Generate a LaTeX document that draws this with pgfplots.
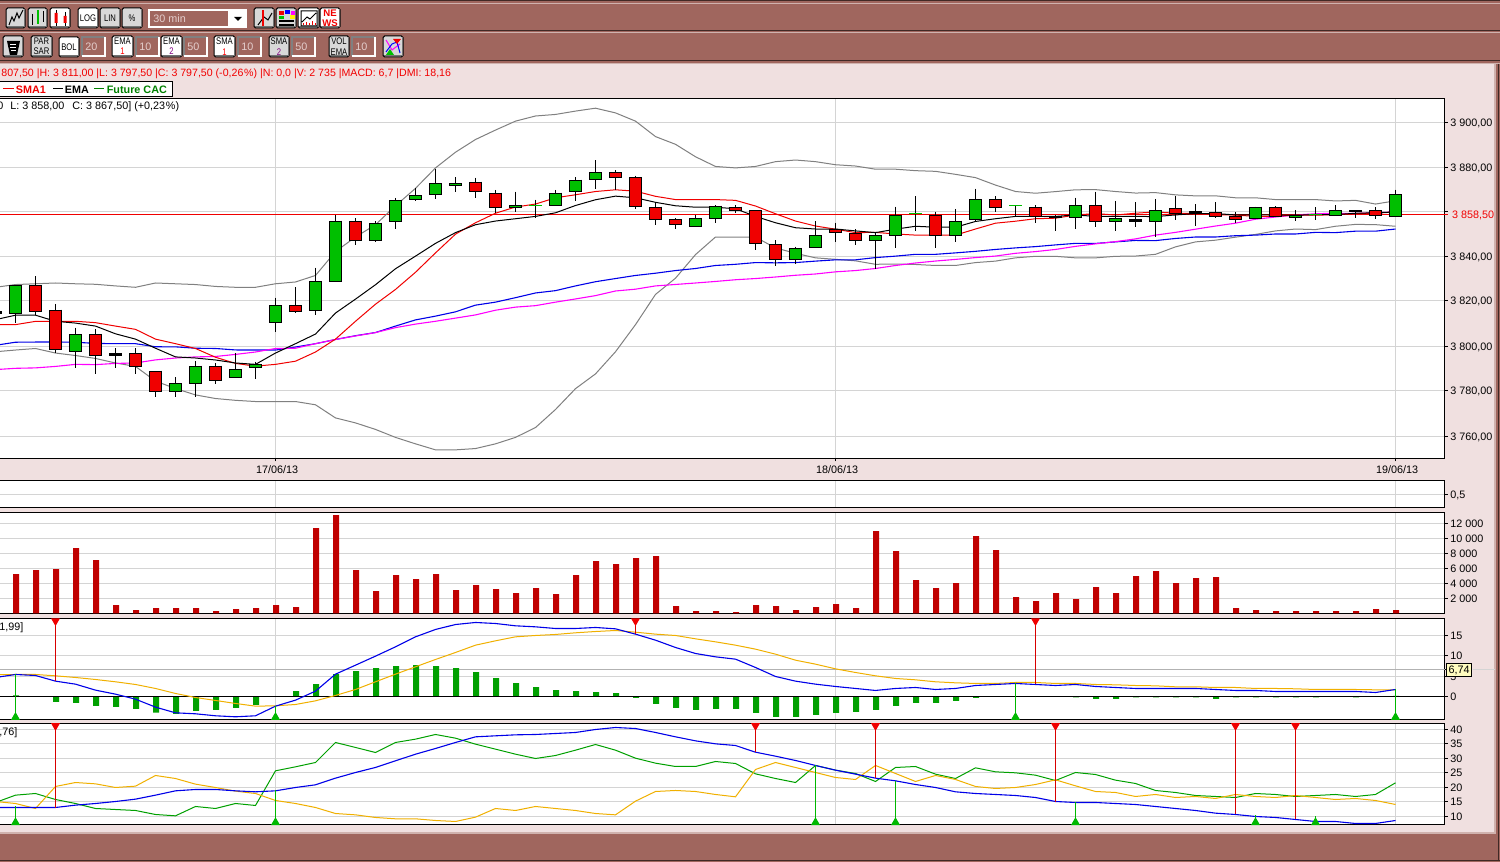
\documentclass[border=0pt]{standalone}
\usepackage{fontspec}
\setmainfont{Liberation Sans}
\newfontfamily\btnfont[FakeStretch=0.8]{Liberation Sans}
\usepackage{pgfplots}
\usepackage{pgfplotstable}
\pgfplotsset{compat=1.18}
\definecolor{brownbg}{HTML}{A0665E}
\definecolor{pinkbg}{HTML}{F0E0E0}
\definecolor{gridc}{HTML}{D4D4D4}
\definecolor{cgreen}{HTML}{00BF00}
\definecolor{cred}{HTML}{F00000}
\definecolor{vred}{HTML}{C00000}
\definecolor{hgreen}{HTML}{00A000}
\definecolor{lblue}{HTML}{0000E8}
\definecolor{lmag}{HTML}{FF00FF}
\definecolor{lgray}{HTML}{808080}
\definecolor{lorange}{HTML}{F0B000}
\definecolor{lgreen}{HTML}{00A000}
\definecolor{sred}{HTML}{D80000}
\definecolor{sgreen}{HTML}{00B800}
\definecolor{btn}{HTML}{D8D8D8}
\newcommand\txf{\fontsize{5.4}{6.2}\selectfont}
\newcommand\btf{\btnfont\fontsize{4.8}{5.2}\selectfont}

\pgfplotstableread{
k sma ema ema50 sma50 bbu bbl
-1 3809.2 3811.4 3800.45 3789.6 3825.8 3797.65
0 3809.5 3813.6 3801.35 3790.15 3827 3798.4
1 3810.7 3813.8 3801.8 3790.6 3827.6 3798.7
2 3810.7 3811 3801.65 3791.05 3828 3796.9
3 3811.1 3810.5 3801.35 3791.5 3827.6 3795.75
4 3810.2 3808.75 3801.2 3791.9 3827.3 3794.3
5 3808.75 3805.5 3801.05 3792.1 3826.55 3792.5
6 3807.4 3803.1 3800.6 3792.5 3825.8 3790.75
7 3803.3 3799.1 3799.85 3794 3828 3784.4
8 3800.6 3795.4 3799.55 3794.7 3827.6 3781
9 3798.7 3794.7 3799.1 3795.2 3827 3778.55
10 3795 3793.7 3798.7 3795.45 3826.25 3777.1
11 3792.1 3792.2 3798.25 3796.2 3825.8 3775.9
12 3791 3791.8 3797.8 3797.35 3825.8 3775.6
13 3791.8 3796.9 3798.4 3798.7 3827.6 3775.2
14 3793.2 3800.6 3799.25 3799.1 3828.75 3775.2
15 3797.35 3805 3800.6 3800.6 3831.75 3774.15
16 3803.1 3814.7 3802.8 3802.8 3842.15 3768.6
17 3811 3820.6 3804.6 3804.3 3848.15 3766.1
18 3818.4 3826.85 3806.2 3805.8 3854.15 3763.2
19 3825.1 3834 3808.75 3808 3862.4 3759.55
20 3832.8 3839.9 3811.25 3809.65 3870.65 3756.65
21 3841.7 3845.9 3813.2 3811.1 3879.65 3753.9
22 3850 3850.85 3815.4 3812.6 3887.15 3753.9
23 3854.6 3854.15 3817.9 3814 3892.75 3754.45
24 3859.1 3855.35 3819.55 3815.7 3896.95 3756.65
25 3862.1 3856.7 3821.5 3817.2 3900.7 3759.55
26 3863.45 3857.9 3823.3 3818.2 3903.05 3763.95
27 3866 3859.4 3824.6 3819.55 3903.8 3772
28 3867.35 3862.7 3826.55 3821 3905.15 3780.75
29 3868.85 3865.4 3828.35 3822.5 3906.65 3787.4
30 3869.75 3867.2 3830 3824 3904.85 3797.65
31 3869.15 3866.45 3831.5 3825.05 3900.7 3809.5
32 3866.75 3864.2 3832.4 3826.55 3893.7 3822.85
33 3865.7 3862.4 3833.3 3827.1 3890.2 3830.25
34 3865.25 3861.65 3834.3 3828 3884.7 3840.65
35 3865.25 3861.65 3835.7 3828.9 3880.1 3848.15
36 3864.8 3861.35 3836.6 3829.65 3879.65 3848.75
37 3862.55 3857.9 3836.9 3830.1 3880.1 3848.3
38 3858.95 3854.6 3837.05 3830.4 3882.5 3843.65
39 3855.8 3852.65 3837.35 3831.15 3883.25 3841.4
40 3853.55 3852.2 3837.8 3832.05 3882.8 3839.6
41 3851.9 3852.2 3838.25 3832.95 3881.45 3838.7
42 3850.85 3851 3838.25 3833.55 3880.4 3837.5
43 3850.4 3850.85 3839 3834.3 3879.2 3836.6
44 3849.95 3851.9 3839.9 3835.95 3879.2 3836.15
45 3849.5 3853.4 3840.5 3836.85 3878.6 3836.3
46 3849.35 3852.8 3840.95 3837.75 3878 3835.7
47 3849.5 3852.8 3841.7 3838.65 3876.8 3835.7
48 3852.2 3855.65 3842.3 3839.55 3875.15 3836.9
49 3854.9 3856.7 3843.05 3840.2 3872.15 3837.8
50 3855.5 3857.6 3843.65 3841.4 3869.3 3839.15
51 3856.7 3857.6 3844.25 3842 3868.25 3840.05
52 3857.3 3857.6 3845 3843.05 3869 3840.05
53 3858.35 3858.2 3845.3 3844.55 3869.75 3839.6
54 3858.8 3857.9 3845.75 3845.45 3869.6 3839.6
55 3858.35 3857.6 3846.35 3846.65 3868.85 3840.05
56 3859.1 3857.6 3846.8 3848 3868.4 3840.2
57 3859.7 3858.05 3847.25 3849.5 3868.7 3840.95
58 3859.1 3858.2 3847.7 3850.7 3867.5 3843.95
59 3858.8 3858.8 3848.15 3852.35 3867.05 3846.35
60 3858.65 3858.8 3848.6 3853.55 3866.9 3847.1
61 3858.35 3858.2 3849.05 3854.9 3866.45 3848.3
62 3857.9 3858.2 3849.5 3856.4 3866 3849.8
63 3857.9 3858.35 3849.95 3857.45 3865.7 3851.6
64 3858.2 3858.5 3849.95 3858.35 3865.7 3851.75
65 3858.5 3858.65 3850.4 3858.95 3865.7 3852.05
66 3858.65 3858.65 3850.85 3859.1 3864.95 3853.4
67 3858.8 3859.1 3851.3 3859.25 3864.8 3854
68 3859.1 3859.4 3851.3 3859.4 3863.45 3854.45
69 3859.7 3859.85 3852.2 3859.7 3864.5 3853.4
}\maintab

\pgfplotstableread{
k v
0 5244
1 5778
2 5911
3 8711
4 7111
5 1111
6 444
7 711
8 711
9 711
10 311
11 578
12 711
13 1111
14 844
15 11378
16 13111
17 5778
18 2978
19 5111
20 4578
21 5244
22 3111
23 3778
24 3244
25 2711
26 3378
27 2578
28 5111
29 6978
30 6578
31 7378
32 7644
33 978
34 311
35 311
36 178
37 1111
38 978
39 444
40 844
41 1244
42 711
43 10978
44 8311
45 4444
46 3378
47 4044
48 10311
49 8444
50 2178
51 1644
52 2711
53 1911
54 3511
55 2711
56 4978
57 5644
58 4044
59 4711
60 4844
61 711
62 444
63 311
64 311
65 311
66 311
67 311
68 578
69 444
}\voltab

\pgfplotstableread{
k macd sig hist
-1 4.67 5.33 0
0 5.41 5.41 0.25
1 5.16 5.41 0
2 3.77 5.08 -1.3
3 3.03 4.67 -1.56
4 1.56 4.18 -2.3
5 0.57 3.61 -2.54
6 -0.66 2.95 -3.03
7 -2.62 1.97 -4.0
8 -4.02 0.74 -4.26
9 -4.26 -0.25 -3.52
10 -4.75 -0.98 -3.28
11 -5.0 -1.72 -2.79
12 -4.75 -2.38 -2.05
13 -2.38 -2.3 0
14 -0.9 -1.97 1.31
15 1.31 -1.07 3.03
16 5.49 0.25 5.49
17 7.7 1.72 6.23
18 9.92 3.61 6.97
19 12.21 5.49 7.46
20 14.67 7.3 7.7
21 16.48 9.1 7.46
22 17.7 10.82 6.97
23 18.2 12.62 5.98
24 17.95 13.69 4.51
25 17.38 14.67 3.28
26 17.13 15 2.3
27 16.72 15.25 1.56
28 16.72 15.66 1.31
29 16.97 15.98 1.07
30 16.64 16.23 0.82
31 15.33 15.82 -0.33
32 13.85 15.33 -1.8
33 12.05 15 -2.79
34 10.57 14.18 -3.28
35 9.75 13.44 -3.03
36 9.18 12.62 -3.03
37 7.13 11.64 -4.02
38 4.92 10.41 -5.0
39 3.77 8.93 -5.0
40 3.03 7.95 -4.51
41 2.46 6.8 -4.02
42 1.97 5.9 -3.77
43 1.48 5.08 -3.28
44 1.97 4.43 -2.3
45 2.21 4.1 -1.56
46 1.72 3.61 -1.56
47 1.97 3.36 -1.07
48 2.7 3.2 -0.33
49 2.95 3.2 0
50 3.2 3.44 0
51 2.95 3.44 0
52 2.7 3.2 0
53 2.95 3.2 -0.25
54 2.46 2.95 -0.57
55 2.21 2.87 -0.57
56 1.97 2.7 -0.25
57 1.97 2.62 -0.25
58 1.97 2.38 -0.25
59 1.97 2.38 -0.25
60 1.72 2.21 -0.57
61 1.48 2.21 -0.25
62 1.48 1.97 -0.25
63 1.23 1.97 -0.25
64 1.23 1.89 -0.25
65 1.23 1.72 -0.25
66 1.23 1.72 0
67 1.23 1.72 -0.25
68 0.98 1.64 0
69 1.72 1.64 0.16
}\macdtab

\pgfplotstableread{
k adx pdi mdi
-1 13.1 14.83 15.17
0 13.1 17.36 14.48
1 13.1 17.93 12.76
2 13.1 15.86 20.35
3 13.91 14.48 21.72
4 14.48 12.76 21.26
5 15.17 12.41 20
6 15.98 12.07 20.46
7 17.36 10.69 24.14
8 18.85 10.23 23.1
9 19.31 13.45 21.15
10 19.31 12.76 20
11 18.85 14.48 18.74
12 18.51 13.8 17.93
13 18.85 25.75 15.52
14 20 27.13 14.48
15 20.92 28.62 13.1
16 23.22 35.52 11.03
17 25.17 33.8 10.57
18 26.9 32.07 9.66
19 29.2 35.52 9.2
20 31.49 36.67 9.2
21 33.45 38.28 8.62
22 35.52 37.01 8.28
23 37.47 34.94 9.77
24 37.82 33.22 12.76
25 38.16 31.49 12.07
26 38.28 30 13.45
27 38.62 31.03 12.76
28 38.97 32.87 12.07
29 40 34.83 11.03
30 40.69 32.87 10.57
31 40.34 30.11 15.29
32 38.97 28.39 18.62
33 37.47 27.24 18.97
34 36.09 27.24 18.62
35 35.06 28.97 17.59
36 34.48 28.28 16.78
37 32.18 24.71 26.21
38 30.8 23.1 28.62
39 29.31 21.72 26.9
40 27.59 27.59 25.17
41 25.98 25.98 23.45
42 24.6 24.83 22.76
43 23.22 22.07 27.59
44 22.3 26.9 24.83
45 21.03 27.24 22.07
46 20 24.6 24.14
47 18.51 23.1 22.76
48 17.93 26.78 20.35
49 17.59 25.4 19.66
50 17.24 25.06 20
51 16.55 24.25 21.03
52 15.17 22.41 22.64
53 14.83 25.17 20.57
54 14.83 24.48 18.62
55 14.48 22.53 18.28
56 14.14 21.38 16.9
57 13.45 18.97 17.59
58 12.76 18.28 16.55
59 12.07 17.24 16.9
60 11.15 16.9 16.21
61 10.69 16.55 17.59
62 10 17.93 16.9
63 9.66 17.59 16.55
64 8.97 16.9 17.24
65 8.28 17.24 16.55
66 8.28 17.59 15.86
67 7.59 16.9 16.21
68 7.59 17.59 15.52
69 8.62 21.61 14.14
}\dmitab

% colour, position, high, body top, body bottom, low
\newcommand\cand[6]{\addplot[black,line width=.5pt] coordinates {(#2,#3)(#2,#6)};
  \addplot[black,line width=6.5pt,shorten <=-.25pt,shorten >=-.25pt] coordinates {(#2,#4)(#2,#5)};
  \addplot[#1,line width=5.5pt,shorten <=.25pt,shorten >=.25pt] coordinates {(#2,#4)(#2,#5)};}
% position, high, body, low : thin green doji
\newcommand\dojig[4]{\addplot[black,line width=.5pt] coordinates {(#1,#2)(#1,#4)};
  \addplot[cgreen,only marks,mark=-,mark size=3.2pt,mark options={line width=.5pt}] coordinates {(#1,#3)};}
% position, mark value, end value
\newcommand\sigdn[3]{\addplot[sred,line width=.5pt,mark=triangle*,mark size=2.1pt,
  mark indices={1},mark options={rotate=180,fill=cred,draw=cred}] coordinates {(#1,#2)(#1,#3)};}
\newcommand\sigup[3]{\addplot[sgreen,line width=.5pt,mark=triangle*,mark size=2.1pt,
  mark indices={1},mark options={fill=sgreen,draw=sgreen}] coordinates {(#1,#2)(#1,#3)};}

\pgfplotsset{panel/.style={scale only axis,width=727.25pt,xmin=-1.275,xmax=71.45,
  anchor=north west,axis background/.style={fill=white},
  axis line style={black,line width=.5pt},
  xtick={13,41,69},xmajorgrids,ymajorgrids,
  grid style={gridc,line width=.5pt},
  tick align=outside,major tick length=1.5pt,
  tick style={black,line width=.5pt},
  xtick pos=bottom,ytick pos=right,yticklabel pos=right,
  scaled y ticks=false,
  tick label style={font=\txf,black},
  yticklabel style={anchor=base west,inner sep=0pt,xshift=1.2pt,yshift=-1.95pt},
  xticklabel style={inner sep=0pt,yshift=-1.7pt,xshift=.8pt},
  every axis plot/.append style={forget plot},
  },
  lower/.style={panel,xticklabels={},xtick style={draw=none}}}

\begin{document}
\begin{tikzpicture}
\path[use as bounding box] (0,0) rectangle (750pt,431pt);
\begin{scope}[x=.5pt,y=-.5pt,yshift=431pt]
\newcommand\btnb[6]{\fill[#5,rounded corners=.8pt] (#1,#2) rectangle (#3,#4);
  \draw[black,line width=.5pt,rounded corners=.8pt] (#1,#2) rectangle (#3,#4);
  \draw[black!55,line width=.5pt] (#1+1,#4-1) -- (#3-1,#4-1) -- (#3-1,#2+1);
  \node[font=\btf,align=center,inner sep=0pt,text=black] at ({(#1+#3)/2},{(#2+#4)/2}) {#6};}
\newcommand\ibox[5]{\draw[gray,line width=1pt] (#1,#4) -- (#1,#2) -- (#3,#2);
  \draw[white,line width=1pt] (#3,#2) -- (#3,#4) -- (#1,#4);
  \node[font=\txf,anchor=west,inner sep=0pt,text=pinkbg!85!brownbg] at (#1+3,{(#2+#4)/2}) {#5};}
% background
\fill[brownbg] (0,0) rectangle (1500,862);
\fill[pinkbg] (0,64) rectangle (1495,832);
\draw[black!60!brownbg,line width=.5pt] (0,.5) -- (1500,.5);
\draw[brownbg!50!white,line width=.5pt] (0,3.5) -- (1500,3.5);
\draw[black!60!brownbg,line width=.5pt] (0,30.5) -- (1500,30.5);
\draw[brownbg!50!white,line width=.5pt] (0,32.5) -- (1500,32.5);
\draw[black!60!brownbg,line width=.5pt] (0,60.5) -- (1500,60.5);
\draw[brownbg!50!white,line width=.5pt] (0,63.5) -- (1500,63.5);
\draw[brownbg!50!white,line width=1pt] (0,833) -- (1495,833) -- (1495,64);
\draw[black!60!brownbg,line width=.5pt] (0,860.5) -- (1500,860.5);
\draw[black!60!brownbg,line width=.5pt] (1498.5,64) -- (1498.5,860);
\draw[gridc,line width=.5pt] (1473,669.5) -- (1495,669.5);
% toolbar 1
\btnb{6}{8}{25}{28}{btn}{}
\draw[black,line width=.5pt] (9,25)--(12,17)--(14,21)--(17,13)--(19,18)--(23,10);
\btnb{28}{8}{47}{28}{btn}{}
\draw[black,line width=.5pt] (32,14)--(32,25) (43,11)--(43,22);
\draw[cgreen,line width=1pt] (38,10)--(38,24);
\btnb{50}{8}{70}{28}{white}{}
\draw[black,line width=.5pt] (56,10)--(56,26) (65,12)--(65,26);
\fill[cred] (54.5,13) rectangle (57.5,23) (63.5,16) rectangle (66.5,23);
\btnb{78}{8}{98}{28}{white}{LOG}
\btnb{100}{8}{120}{28}{btn}{LIN}
\btnb{122}{8}{142}{28}{btn}{\%}
\draw[white,line width=1pt] (149,10) rectangle (246,27);
\fill[white] (228,10) rectangle (246,27);
\fill[black] (234,17) -- (242,17) -- (238,21) -- cycle;
\node[font=\txf,anchor=west,inner sep=0pt,text=pinkbg!85!brownbg] at (153,18.5) {30 min};
\btnb{254}{8}{274}{28}{btn}{}
\draw[black,line width=.5pt] (258,25)--(264,17)--(268,20)--(272,13);
\draw[cred,line width=.7pt] (263,10)--(263,26);
\btnb{276}{8}{296}{28}{btn}{}
\fill[cred] (279,11) rectangle (284,15);
\fill[blue] (285,10) rectangle (290,14);
\fill[lmag] (291,11) rectangle (295,15);
\fill[cgreen] (279,16) rectangle (284,19);
\fill[yellow] (290,15) rectangle (295,19);
\draw[black,line width=.7pt] (279,21)--(294,21) (279,25)--(294,25);
\btnb{298}{8}{319}{28}{white}{}
\draw[black,line width=.5pt] (301,11) rectangle (317,26) (302,22)--(307,17)--(310,19)--(316,13);
\draw[cred,line width=.5pt] (303,25)--(303,23) (306,25)--(306,22) (309,25)--(309,23) (312,25)--(312,21) (315,25)--(315,23);
\btnb{320}{8}{340}{28}{white}{}
\node[font=\fontsize{4.8}{5}\selectfont\bfseries,text=cred,align=center,inner sep=0] at (330,18) {NE\\WS};
% toolbar 2
\btnb{3}{36}{23}{57}{btn}{}
\fill[black] (7,41)--(20,41)--(17,55)--(10,55)--cycle;
\draw[white,line width=.3pt,dashed] (10,44)--(17,44) (10,47)--(17,47) (11,50)--(16,50);
\btnb{31}{36}{52}{57}{btn}{PAR\\SAR}
\btnb{59}{37}{79}{57}{white}{BOL}
\ibox{82}{37}{105}{56}{20}
\btnb{112}{36}{133}{57}{white}{EMA\\\textcolor{red}{1}}
\ibox{136}{37}{159}{56}{10}
\btnb{161}{36}{182}{57}{white}{EMA\\\textcolor{violet}{2}}
\ibox{184}{37}{207}{56}{50}
\btnb{214}{36}{235}{57}{white}{SMA\\\textcolor{red}{1}}
\ibox{238}{37}{261}{56}{10}
\btnb{269}{36}{289}{57}{btn}{SMA\\\textcolor{violet}{2}}
\ibox{292}{37}{315}{56}{50}
\btnb{329}{36}{349}{57}{btn}{VOL\\EMA}
\ibox{352}{37}{375}{56}{10}
\btnb{383}{36}{403}{57}{btn}{}
\draw[lmag,line width=.5pt] (386,40)--(392,50)--(400,44);
\draw[blue,line width=.5pt] (386,52)--(392,44)--(397,42)--(400,53);
\fill[cred] (393,39)--(401,39)--(397,44)--cycle;
\fill[cgreen] (386,55)--(394,55)--(390,49)--cycle;
% info line and legend
\node[font=\fontsize{5.3}{6}\selectfont,anchor=west,inner sep=0pt,text=cred] at (1,73.5) {807,50 |H: 3 811,00 |L: 3 797,50 |C: 3 797,50 (-0,26\hspace{.4pt}\%) |N: 0,0 |V: 2 735 |MACD: 6,7 |DMI: 18,16};
\fill[white] (-3,82) rectangle (172.5,96.5);
\draw[black,line width=.5pt] (-3,82) rectangle (172.5,96.5);
\draw[cred,line width=.5pt] (3,89)--(14,89);
\node[font=\txf\bfseries,anchor=west,inner sep=0pt,text=cred] at (15.5,89.3) {SMA1};
\draw[black,line width=.5pt] (53,89)--(63,89);
\node[font=\txf\bfseries,anchor=west,inner sep=0pt,text=black] at (64.5,89.3) {EMA};
\draw[green!50!black,line width=.5pt] (94,89)--(104,89);
\node[font=\txf\bfseries,anchor=west,inner sep=0pt,text=green!50!black] at (106.5,89.3) {Future CAC};
\end{scope}

% main panel (logarithmic price scale)
\begin{axis}[panel,at={(-5pt,381.75pt)},height=180pt,
  y coord trafo/.code={\pgfmathparse{ln(#1)*1000}},
  ymin=3750.35,ymax=3910.9,
  ytick={3760,3780,3800,3820,3840,3860,3880,3900},
  yticklabels={{3 760,00},{3 780,00},{3 800,00},{3 820,00},{3 840,00},{},{3 880,00},{3 900,00}},
  xticklabels={17/06/13,18/06/13,19/06/13},
  extra y ticks={3858.5},extra y tick labels={3 858{,}50},
  extra y tick style={grid style={cred,line width=.5pt},tick style={cred},
    yticklabel style={text=cred,xshift=.85pt}}]
\addplot[lgray,line width=.5pt] table[x=k,y=bbu]{\maintab};
\addplot[lgray,line width=.5pt] table[x=k,y=bbl]{\maintab};
\addplot[lblue,line width=.55pt] table[x=k,y=ema50]{\maintab};
\addplot[lmag,line width=.55pt] table[x=k,y=sma50]{\maintab};
\addplot[cred,line width=.5pt] table[x=k,y=sma]{\maintab};
\addplot[black,line width=.5pt] table[x=k,y=ema]{\maintab};
\cand{black}{-1}{3815.3}{3815.3}{3814.7}{3814.7}
\cand{cgreen}{0}{3826.8}{3826.65}{3814.1}{3809.9}
\cand{cred}{1}{3830.9}{3826.65}{3815.4}{3814}
\cand{cred}{2}{3818.8}{3816}{3798.25}{3796.45}
\cand{cgreen}{3}{3808}{3804.9}{3797.65}{3790.6}
\cand{cred}{4}{3807.6}{3804.9}{3795.9}{3787.4}
\cand{black}{5}{3798.85}{3796.45}{3795.9}{3790}
\cand{cred}{6}{3798.85}{3796.9}{3790.75}{3787.4}
\cand{cred}{7}{3789}{3789}{3779.7}{3777.8}
\cand{cgreen}{8}{3786.1}{3783.25}{3779.7}{3777.8}
\cand{cgreen}{9}{3793.1}{3791.2}{3783.25}{3777.8}
\cand{cred}{10}{3792.05}{3791.2}{3784.45}{3783.4}
\cand{cgreen}{11}{3796.45}{3789.45}{3785.9}{3785.9}
\cand{cgreen}{12}{3793.4}{3791.65}{3790.3}{3785.2}
\cand{cgreen}{13}{3821.5}{3817.75}{3810.2}{3805.95}
\cand{cred}{14}{3825.8}{3817.75}{3815.4}{3814.7}
\cand{cgreen}{15}{3834.8}{3828.9}{3815.55}{3813.5}
\cand{cgreen}{16}{3858.5}{3855.8}{3828.45}{3828.45}
\cand{cred}{17}{3857.3}{3855.8}{3847.25}{3845.15}
\cand{cgreen}{18}{3855.5}{3854.9}{3847.25}{3846.05}
\cand{cgreen}{19}{3866.15}{3864.8}{3855.35}{3852.35}
\cand{cgreen}{20}{3870.65}{3867.05}{3865.25}{3864.5}
\cand{cgreen}{21}{3879.2}{3872.9}{3867.5}{3865.55}
\cand{cgreen}{22}{3875.6}{3872.9}{3871.55}{3869}
\cand{cred}{23}{3875.15}{3873.35}{3868.85}{3866}
\cand{cred}{24}{3869.75}{3868.4}{3862.1}{3859.4}
\cand{cgreen}{25}{3869}{3863}{3862.1}{3860}
\dojig{26}{3865.7}{3863}{3857}
\cand{cgreen}{27}{3869.9}{3868.4}{3863}{3863}
\cand{cgreen}{28}{3875.6}{3874.25}{3868.85}{3864.65}
\cand{cgreen}{29}{3883.25}{3877.4}{3874.7}{3870.35}
\cand{cred}{30}{3878.75}{3877.4}{3875.45}{3869.9}
\cand{cred}{31}{3876.05}{3875.15}{3862.55}{3861.35}
\cand{cred}{32}{3864.35}{3862.1}{3856.25}{3853.85}
\cand{cred}{33}{3857.3}{3856.25}{3853.85}{3852.35}
\cand{cgreen}{34}{3858.2}{3856.7}{3853.55}{3853.55}
\cand{cgreen}{35}{3863}{3862.55}{3856.7}{3855.05}
\cand{cred}{36}{3863}{3862.1}{3860.75}{3859.1}
\cand{cred}{37}{3860.3}{3860.3}{3845.45}{3842.6}
\cand{cred}{38}{3847.4}{3845}{3838.7}{3835.85}
\cand{cgreen}{39}{3844.25}{3843.2}{3838.7}{3836.15}
\cand{cgreen}{40}{3855.5}{3849.05}{3843.65}{3843.65}
\cand{cred}{41}{3855.05}{3852.2}{3850.85}{3846.05}
\cand{cred}{42}{3851.75}{3849.95}{3846.8}{3845.15}
\cand{cgreen}{43}{3850.85}{3849.05}{3846.8}{3834.45}
\cand{cgreen}{44}{3862.25}{3858.5}{3849.5}{3843.8}
\dojig{45}{3866.75}{3859.3}{3851}
\cand{cred}{46}{3860}{3858.5}{3849.05}{3843.8}
\cand{cgreen}{47}{3860.9}{3855.8}{3849.5}{3846.5}
\cand{cgreen}{48}{3870.35}{3865.7}{3856.25}{3855.35}
\cand{cred}{49}{3866.6}{3865.7}{3862.1}{3860}
\dojig{50}{3863}{3862.5}{3857.6}
\cand{cred}{51}{3862.7}{3862.1}{3857.6}{3855.05}
\cand{black}{52}{3858.5}{3857.75}{3857.15}{3851}
\cand{cgreen}{53}{3866.3}{3863}{3857.15}{3851.9}
\cand{cred}{54}{3869}{3863}{3855.35}{3852.8}
\cand{cgreen}{55}{3864.5}{3856.7}{3855.35}{3851.45}
\cand{black}{56}{3864.05}{3856.25}{3855.65}{3852.8}
\cand{cgreen}{57}{3865.85}{3860.75}{3855.35}{3848.75}
\cand{cred}{58}{3866.9}{3861.2}{3859.25}{3855.95}
\cand{black}{59}{3863.15}{3859.85}{3859.1}{3853.7}
\cand{cred}{60}{3864.05}{3859.4}{3858.05}{3857.3}
\cand{cred}{61}{3859.55}{3858.05}{3856.25}{3854.6}
\cand{cgreen}{62}{3862.25}{3861.65}{3856.7}{3856.7}
\cand{cred}{63}{3862.55}{3861.65}{3857.6}{3857.6}
\cand{cgreen}{64}{3860.45}{3858.5}{3857.15}{3855.5}
\dojig{65}{3861.8}{3858.7}{3855.95}
\cand{cgreen}{66}{3862.7}{3860.3}{3858.5}{3857.9}
\cand{black}{67}{3860.75}{3860.3}{3859.7}{3856.85}
\cand{cred}{68}{3862.1}{3860.75}{3858.5}{3856.4}
\cand{cgreen}{69}{3869.45}{3867.5}{3858.05}{3858.05}
\node[font=\txf,anchor=base west,inner sep=0pt,text=black] at (rel axis cs:0.0048,0.9694) {0\hspace{3.5pt}L: 3 858,00\hspace{4pt}C: 3 867,50] (+0,23\hspace{.4pt}\%)};
\end{axis}

% empty panel
\begin{axis}[lower,at={(-5pt,190.75pt)},height=13.5pt,ymin=0,ymax=1.0385,
  ytick={0.5},yticklabels={0{,}5}]
\addplot[draw=none] coordinates {(0,0.5)(69,0.5)};
\end{axis}

% volume
\begin{axis}[lower,at={(-5pt,174.75pt)},height=50.5pt,ymin=0,ymax=13467,
  ytick={2000,4000,6000,8000,10000,12000},
  yticklabels={{2 000},{4 000},{6 000},{8 000},{10 000},{12 000}}]
\addplot[ybar,bar width=3pt,bar shift=.25pt,draw=none,fill=vred] table[x=k,y=v]{\voltab};
\end{axis}

% MACD
\begin{axis}[lower,at={(-5pt,121.75pt)},height=50.5pt,ymin=-5.66,ymax=19.18,
  ytick={0,5,10,15},yticklabels={0,5,10,15},
  extra y ticks={6.7},extra y tick labels={6{,}74},
  extra y tick style={grid style={black!30,line width=.5pt},
    yticklabel style={fill=yellow!25,draw=black,line width=.5pt,inner xsep=1.2pt,inner ysep=1.2pt,xshift=-2.15pt}}]
\addplot[ybar,bar width=3pt,bar shift=.25pt,draw=none,fill=hgreen] table[x=k,y=hist]{\macdtab};
\addplot[black,line width=.5pt] coordinates {(-1.275,0)(71.45,0)};
\addplot[lorange,line width=.5pt] table[x=k,y=sig]{\macdtab};
\addplot[lblue,line width=.55pt] table[x=k,y=macd]{\macdtab};
\sigdn{2}{18.6}{3.77}
\sigdn{31}{18.6}{15.33}
\sigdn{51}{18.6}{2.95}
\sigup{0}{-5.1}{5.41}
\sigup{13}{-5.1}{-2.38}
\sigup{50}{-5.1}{3.2}
\sigup{69}{-5.1}{1.9}
\node[font=\txf,anchor=base west,inner sep=0pt,text=black] at (rel axis cs:0.0062,0.884) {1,99]};
\end{axis}

% DMI
\begin{axis}[lower,at={(-5pt,69.25pt)},height=50.5pt,ymin=7.24,ymax=42.07,
  ytick={10,15,20,25,30,35,40},yticklabels={10,15,20,25,30,35,40}]
\addplot[lgreen,line width=.5pt] table[x=k,y=pdi]{\dmitab};
\addplot[lorange,line width=.5pt] table[x=k,y=mdi]{\dmitab};
\addplot[lblue,line width=.55pt] table[x=k,y=adx]{\dmitab};
\sigdn{2}{41.3}{13.1}
\sigdn{37}{41.3}{32.18}
\sigdn{43}{41.3}{23.22}
\sigdn{52}{41.3}{15.17}
\sigdn{61}{41.3}{10.69}
\sigdn{64}{41.3}{8.97}
\sigup{0}{7.95}{13.45}
\sigup{13}{7.95}{19.2}
\sigup{40}{7.95}{27.59}
\sigup{44}{7.95}{22.3}
\sigup{53}{7.95}{15.17}
\sigup{62}{7.95}{10.45}
\sigup{65}{7.95}{10}
\node[font=\txf,anchor=base west,inner sep=0pt,text=black] at (rel axis cs:0.0062,0.884) {,76]};
\end{axis}
\end{tikzpicture}
\end{document}
